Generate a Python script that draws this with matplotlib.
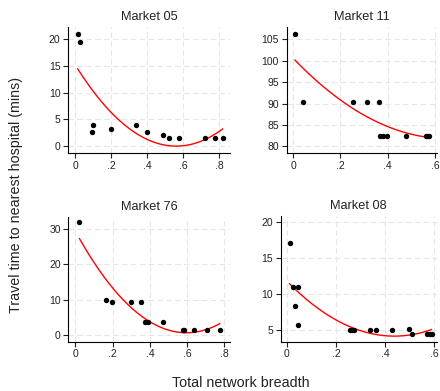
import numpy as np
import matplotlib as mpl
import matplotlib.pyplot as plt
from matplotlib.ticker import FuncFormatter

# breadth / travel time per market
m05_x = [0.015, 0.028, 0.093, 0.10, 0.20, 0.34, 0.40, 0.49, 0.52, 0.58, 0.72, 0.78, 0.82]
m05_y = [21.0, 19.4, 2.6, 3.9, 3.2, 3.9, 2.6, 2.0, 1.5, 1.5, 1.5, 1.5, 1.5]

m11_x = [0.007, 0.041, 0.252, 0.314, 0.362, 0.367, 0.381, 0.396, 0.478, 0.561, 0.568, 0.575]
m11_y = [106.3, 90.3, 90.3, 90.3, 90.3, 82.4, 82.4, 82.4, 82.4, 82.4, 82.4, 82.4]

m76_x = [0.022, 0.167, 0.194, 0.296, 0.354, 0.372, 0.391, 0.47, 0.577, 0.585, 0.637, 0.707, 0.775]
m76_y = [31.9, 9.8, 9.3, 9.3, 9.3, 3.6, 3.6, 3.6, 1.4, 1.4, 1.4, 1.4, 1.4]

m08_x = [0.012, 0.024, 0.046, 0.035, 0.046, 0.259, 0.266, 0.273, 0.339, 0.361, 0.429,
         0.497, 0.508, 0.571, 0.58, 0.588]
m08_y = [17.2, 11.0, 11.0, 8.3, 5.7, 5.0, 5.0, 5.0, 5.0, 5.0, 5.0,
         5.2, 4.5, 4.5, 4.5, 4.5]

titles = ['Market 05', 'Market 11', 'Market 76', 'Market 08']
yticks = [[0, 5, 10, 15, 20], [80, 85, 90, 95, 100, 105], [0, 10, 20, 30], [5, 10, 15, 20]]
xticks = [[0, .2, .4, .6, .8], [0, .2, .4, .6], [0, .2, .4, .6, .8], [0, .2, .4, .6]]

mpl.rcParams['font.family'] = 'Liberation Sans'


def fmt(v, pos):
    s = '%g' % round(v, 2)
    return s[1:] if s.startswith('0.') else s


fig = plt.figure(figsize=(4.4, 3.91), dpi=100)
W, H = 440.0, 391.0
# panel boxes in pixels: left, right, top, bottom
boxes = [(68, 230, 27, 153), (286.7, 436.7, 27, 153.3),
         (68.3, 230, 216.7, 341.7), (280.7, 436.7, 216, 341.7)]
xlims = [(-0.039, 0.861), (-0.028, 0.608), (-0.038, 0.83), (-0.024, 0.609)]
ylims = [(-1.3, 22.3), (78.36, 107.9), (-1.9, 33.5), (3.37, 20.9)]

data = [(m05_x, m05_y), (m11_x, m11_y), (m76_x, m76_y), (m08_x, m08_y)]

for i, (x, y) in enumerate(data):
    l, r, t, b = boxes[i]
    ax = fig.add_axes([l / W, 1 - b / H, (r - l) / W, (b - t) / H])
    x = np.array(x)
    y = np.array(y)

    # quadratic fit over the observed range
    c = np.polyfit(x, y, 2)
    xs = np.linspace(x.min(), x.max(), 200)
    ax.plot(xs, np.polyval(c, xs), color='red', lw=1.0, zorder=2)
    ax.scatter(x, y, s=15, color='black', zorder=3, linewidths=0)

    ax.set_xlim(xlims[i])
    ax.set_ylim(ylims[i])
    ax.set_xticks(xticks[i])
    ax.set_yticks(yticks[i])
    ax.xaxis.set_major_formatter(FuncFormatter(fmt))
    ax.tick_params(labelsize=7.5, length=3.5, width=0.8, colors='#222222', pad=2)
    ax.grid(True, color='#e6e6e6', ls=(0, (5, 3)), lw=0.8)
    ax.set_axisbelow(True)
    for s in ['top', 'right']:
        ax.spines[s].set_visible(False)
    for s in ['left', 'bottom']:
        ax.spines[s].set_linewidth(0.8)
    ax.set_title(titles[i], fontsize=9.2, color='#222222', pad=5)

fig.text(240.8 / W, 1 - 383 / H, 'Total network breadth', ha='center', va='center',
         fontsize=10.3, color='#222222')
fig.text(16 / W, 1 - 195 / H, 'Travel time to nearest hospital (mins)', ha='center',
         va='center', rotation=90, fontsize=10.3, color='#222222')

fig.savefig('out.png', dpi=100)
